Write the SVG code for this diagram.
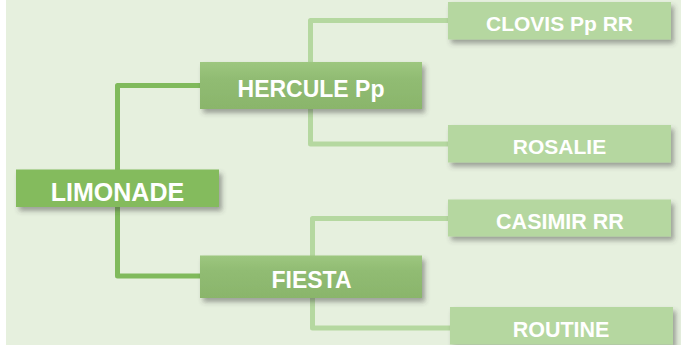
<svg xmlns="http://www.w3.org/2000/svg" width="681" height="345" viewBox="0 0 681 345">
<defs>
<filter id="sh" x="-10%" y="-20%" width="130%" height="160%">
<feDropShadow dx="3" dy="4" stdDeviation="2.5" flood-color="#404040" flood-opacity="0.45"/>
</filter>
<linearGradient id="mid" x1="0" y1="0" x2="0" y2="1">
<stop offset="0" stop-color="#9DC77F"/>
<stop offset="0.35" stop-color="#91BC73"/>
<stop offset="1" stop-color="#8AB56B"/>
</linearGradient>
<style>
text{font-family:"Liberation Sans",Arial,sans-serif;font-weight:bold;fill:#FFFFFF;text-anchor:middle}
.dk{fill:none;stroke:#80BA5C;stroke-width:5;stroke-linejoin:round}
.lt{fill:none;stroke:#B5D8A0;stroke-width:5;stroke-linejoin:round}
.root{fill:#84BB5D}
.mid{fill:url(#mid)}
.leaf{fill:#B5D7A0}
</style>
</defs>
<rect x="6" y="0" width="675" height="345" fill="#E6F0DE"/>
<g id="connectors">
<path class="dk" d="M117.5 172 V85.5 H202"/>
<path class="dk" d="M117.5 205 V276 H202"/>
<path class="lt" d="M450 20.5 H310.5 V144 H450"/>
<path class="lt" d="M450 218.5 H312.5 V328 H452"/>
</g>
<g id="limonade">
<rect class="root" x="16" y="169.5" width="203" height="37.5" filter="url(#sh)"/>
<text x="117.5" y="201" font-size="25">LIMONADE</text>
</g>
<g id="hercule">
<rect class="mid" x="200" y="62" width="222" height="47" filter="url(#sh)"/>
<text x="311" y="97" font-size="23">HERCULE Pp</text>
</g>
<g id="fiesta">
<rect class="mid" x="200" y="255.5" width="222" height="42.5" filter="url(#sh)"/>
<text x="311.5" y="288" font-size="23">FIESTA</text>
</g>
<g id="clovis">
<rect class="leaf" x="448" y="2" width="223" height="37.5" filter="url(#sh)"/>
<text x="559.5" y="31" font-size="21">CLOVIS Pp RR</text>
</g>
<g id="rosalie">
<rect class="leaf" x="448" y="125" width="223" height="37.5" filter="url(#sh)"/>
<text x="559.5" y="154" font-size="21">ROSALIE</text>
</g>
<g id="casimir">
<rect class="leaf" x="448" y="199.5" width="223" height="37" filter="url(#sh)"/>
<text x="560" y="228.5" font-size="21.5">CASIMIR RR</text>
</g>
<g id="routine">
<rect class="leaf" x="450" y="307" width="223" height="37.5" filter="url(#sh)"/>
<text x="561" y="337" font-size="21.5">ROUTINE</text>
</g>
</svg>
